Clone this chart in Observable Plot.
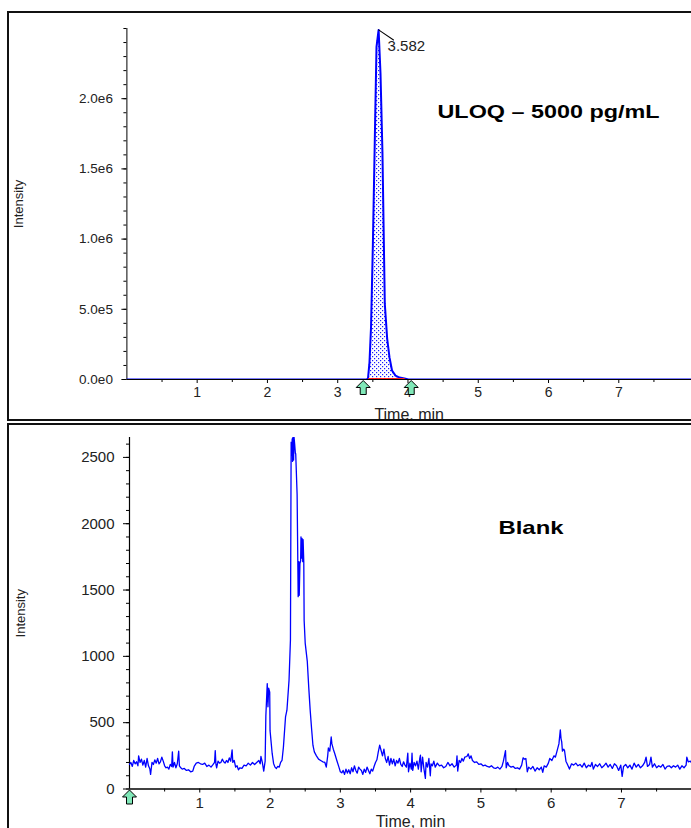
<!DOCTYPE html>
<html><head><meta charset="utf-8">
<script src="https://cdn.jsdelivr.net/npm/d3@7"></script>
<script src="https://cdn.jsdelivr.net/npm/@observablehq/plot@0.6"></script>
<style>
html,body{margin:0;padding:0;background:#fff;}
#page{position:relative;width:691px;height:828px;overflow:hidden;background:#fff;font-family:Arial,"Liberation Sans",sans-serif;}
#page svg{position:absolute;left:0;overflow:hidden;}
.box{position:absolute;border:2px solid #111;pointer-events:none;box-sizing:border-box;}
</style></head><body><div id="page"></div>
<script>
// ---------- DATA ----------
// ULOQ chromatogram (time in min, intensity in counts)
const uloqTrace = [
  [0,0],[3.410,0],[3.431,7000],[3.452,120000],[3.474,370000],[3.500,950000],
  [3.529,1740000],[3.552,2370000],[3.582,2490000],[3.609,2180000],[3.637,1610000],
  [3.670,540000],[3.704,290000],[3.737,157000],[3.773,64000],[3.822,28000],
  [3.879,14000],[3.950,7000],[4.007,0],[8.1,0]
];
const uloqIntegration = [3.41, 4.007];          // integrated peak window
const uloqMarkers = [3.363, 4.046];             // peak start / end markers
const uloqRedBaseline = [{start: 3.44, end: 3.96}];
const uloqApex = [{time: 3.582, intensity: 2490000, label: "3.582"}];
const uloqTitle = ["ULOQ – 5000 pg/mL"];
const uloqYTicks = [0, 5e5, 1e6, 1.5e6, 2e6];
const uloqYMinor = d3.range(0, 2.5e6 + 1, 1e5);

// Blank chromatogram
const blankTrace = [
  [0.00,185],[0.02,200],[0.04,170],[0.06,215],[0.08,190],[0.10,205],[0.12,175],[0.13,250],
  [0.15,200],[0.17,225],[0.19,180],[0.21,215],[0.23,165],[0.25,230],[0.27,175],[0.29,150],
  [0.30,110],[0.32,200],[0.34,185],[0.36,220],[0.38,195],[0.40,230],[0.42,190],[0.44,205],
  [0.46,240],[0.48,210],[0.50,175],[0.52,160],[0.54,165],[0.56,150],[0.58,185],[0.60,170],
  [0.61,280],[0.62,165],[0.64,200],[0.66,160],[0.68,190],[0.70,285],[0.71,175],[0.73,160],
  [0.75,150],[0.78,155],[0.81,140],[0.84,145],[0.87,130],[0.90,135],[0.92,170],[0.95,195],
  [0.98,200],[1.01,190],[1.04,185],[1.07,195],[1.10,170],[1.13,180],[1.16,165],[1.19,185],
  [1.21,200],[1.22,290],[1.23,185],[1.24,160],[1.26,210],[1.28,195],[1.30,200],[1.32,225],
  [1.34,205],[1.36,195],[1.38,215],[1.40,200],[1.42,235],[1.44,210],[1.46,295],[1.47,200],
  [1.49,215],[1.51,165],[1.53,175],[1.55,145],[1.57,160],[1.60,155],[1.63,180],[1.66,175],
  [1.69,195],[1.72,180],[1.75,200],[1.78,185],[1.81,200],[1.84,215],[1.86,190],[1.87,245],
  [1.89,200],[1.91,135],[1.93,210],[1.94,550],[1.96,795],[1.97,620],[1.98,760],[1.995,730],
  [2.00,440],[2.03,268],[2.05,193],[2.07,165],[2.09,155],[2.11,170],[2.13,165],[2.15,200],
  [2.17,215],[2.19,316],[2.22,543],[2.24,594],[2.27,821],[2.29,1123],[2.30,2614],[2.31,2520],
  [2.315,2640],[2.32,2470],[2.325,2650],[2.33,2560],[2.335,2480],[2.34,2660],[2.35,2600],
  [2.36,2530],[2.365,2529],[2.385,2219],[2.40,1450],[2.41,1714],[2.415,1460],[2.425,1700],
  [2.435,1720],[2.44,1901],[2.45,1740],[2.455,1890],[2.465,1714],[2.47,1880],[2.48,1707],
  [2.485,1270],[2.50,1100],[2.53,960],[2.55,770],[2.57,600],[2.59,460],[2.61,330],[2.63,280],
  [2.66,250],[2.69,225],[2.72,215],[2.75,205],[2.78,200],[2.80,165],[2.82,250],[2.83,310],
  [2.85,285],[2.87,392],[2.88,340],[2.90,300],[2.92,268],[2.95,215],[2.98,165],[3.00,130],
  [3.02,122],[3.04,140],[3.06,110],[3.08,150],[3.10,120],[3.12,145],[3.14,115],[3.16,160],
  [3.18,130],[3.20,175],[3.22,140],[3.24,120],[3.26,165],[3.28,150],[3.30,140],[3.32,110],
  [3.34,150],[3.36,125],[3.38,165],[3.40,140],[3.42,115],[3.44,150],[3.46,135],[3.48,170],
  [3.50,200],[3.52,220],[3.54,280],[3.56,330],[3.58,290],[3.60,250],[3.62,300],[3.64,230],
  [3.66,200],[3.68,245],[3.70,180],[3.72,230],[3.74,190],[3.76,225],[3.78,175],[3.80,215],
  [3.82,195],[3.84,230],[3.86,185],[3.88,170],[3.90,205],[3.92,180],[3.94,165],[3.96,270],
  [3.97,130],[3.99,195],[4.01,150],[4.02,270],[4.03,140],[4.05,200],[4.07,175],[4.09,210],
  [4.11,150],[4.13,230],[4.14,255],[4.15,130],[4.17,240],[4.19,150],[4.21,80],[4.22,200],
  [4.24,165],[4.26,230],[4.28,100],[4.29,190],[4.31,175],[4.33,210],[4.35,165],[4.38,195],
  [4.41,175],[4.44,180],[4.47,160],[4.50,170],[4.53,200],[4.56,175],[4.59,190],[4.62,165],
  [4.65,180],[4.66,250],[4.67,135],[4.69,215],[4.71,200],[4.73,230],[4.75,210],[4.77,240],
  [4.80,245],[4.82,265],[4.84,230],[4.86,250],[4.88,215],[4.91,200],[4.94,205],[4.97,185],
  [5.00,190],[5.03,175],[5.06,180],[5.09,170],[5.12,165],[5.15,175],[5.18,160],[5.21,155],
  [5.24,165],[5.27,150],[5.30,170],[5.32,210],[5.35,290],[5.36,160],[5.38,200],[5.40,175],
  [5.43,165],[5.46,170],[5.49,155],[5.52,160],[5.55,150],[5.58,180],[5.60,235],[5.62,225],
  [5.64,230],[5.66,130],[5.68,165],[5.71,150],[5.74,170],[5.77,135],[5.80,160],[5.83,145],
  [5.86,165],[5.88,125],[5.90,175],[5.93,165],[5.96,195],[5.98,230],[6.01,215],[6.04,250],
  [6.06,240],[6.08,280],[6.11,340],[6.13,446],[6.14,380],[6.15,355],[6.16,285],[6.18,300],
  [6.19,290],[6.21,210],[6.24,175],[6.26,150],[6.29,190],[6.32,180],[6.35,195],[6.38,175],
  [6.41,185],[6.44,165],[6.47,195],[6.50,160],[6.53,180],[6.56,170],[6.58,200],[6.60,150],
  [6.63,185],[6.66,170],[6.69,190],[6.72,160],[6.75,175],[6.78,195],[6.81,165],[6.84,185],
  [6.87,155],[6.90,190],[6.93,175],[6.96,140],[6.99,180],[7.01,95],[7.03,170],[7.06,185],
  [7.09,160],[7.12,180],[7.15,150],[7.18,195],[7.21,165],[7.24,185],[7.27,160],[7.30,175],
  [7.33,200],[7.35,240],[7.37,170],[7.40,185],[7.42,240],[7.44,165],[7.47,190],[7.50,160],
  [7.53,175],[7.56,165],[7.59,185],[7.62,150],[7.65,170],[7.68,175],[7.71,160],[7.74,175],
  [7.77,165],[7.80,180],[7.83,150],[7.86,175],[7.89,160],[7.92,180],[7.93,240],[7.95,205],
  [7.98,210],[8.00,195]
];
const blankMarkers = [0];
const blankTitle = ["Blank"];
const blankYTicks = [0, 500, 1000, 1500, 2000, 2500];
const blankYMinor = d3.range(0, 2601, 100);

const xTicks = [1, 2, 3, 4, 5, 6, 7];
const xMinor = [0.5, 1.5, 2.5, 3.5, 4.5, 5.5, 6.5, 7.5];
const yLabel = ["Intensity"];
const xLabel = ["Time, min"];

// ---------- STYLE HELPERS ----------
const FONT = "Arial, 'Liberation Sans', sans-serif";
const TXT = "#222";
const arrowUp = {
  draw(ctx) {
    ctx.moveTo(0, 1); ctx.lineTo(7, 8); ctx.lineTo(3, 8); ctx.lineTo(3, 15);
    ctx.lineTo(-3, 15); ctx.lineTo(-3, 8); ctx.lineTo(-7, 8); ctx.closePath();
  }
};
const leader = {draw(ctx, l) { ctx.moveTo(0, 0); ctx.lineTo(0, -l); }};
const fmtExp = d => d === 0 ? "0.0e0" : d.toExponential(1).replace("+", "");

const uloqRows = uloqTrace.map(([time, intensity]) => ({time, intensity}));
const uloqPeak = uloqRows.filter(d => d.time >= uloqIntegration[0] && d.time <= uloqIntegration[1]);
const blankRows = blankTrace.map(([time, intensity]) => ({time, intensity}));

const patternDefs = () => {
  const defs = d3.create("svg:defs");
  const p = defs.append("pattern").attr("id", "dots").attr("patternUnits", "userSpaceOnUse")
    .attr("width", 4).attr("height", 4);
  p.append("rect").attr("width", 4).attr("height", 4).attr("fill", "#fff");
  p.append("rect").attr("x", 0).attr("y", 0).attr("width", 1.2).attr("height", 1.2).attr("fill", "#1a1aff");
  p.append("rect").attr("x", 2).attr("y", 2).attr("width", 1.2).attr("height", 1.2).attr("fill", "#1a1aff");
  return defs.node();
};

// ---------- TOP PANEL ----------
const topPlot = Plot.plot({
  width: 691, height: 420,
  marginLeft: 126.4, marginRight: 0, marginTop: 28, marginBottom: 41,
  style: {background: "transparent", fontFamily: FONT, overflow: "hidden"},
  x: {domain: [0, (691 - 126.4) / 70.27]},
  y: {domain: [0, 2.5e6]},
  marks: [
    patternDefs,
    Plot.axisY(uloqYMinor, {tickSize: 3, tickFormat: () => "", label: null, color: "#000"}),
    Plot.axisY(uloqYTicks, {tickSize: 5, tickPadding: 9, tickFormat: fmtExp, label: null, fontSize: 13.5, color: "#000", fill: TXT}),
    Plot.axisX(xMinor, {tickSize: 3, tickFormat: () => "", label: null, color: "#000"}),
    Plot.axisX(xTicks, {tickSize: 4, tickPadding: 4, label: null, fontSize: 14, color: "#000", fill: TXT}),
    Plot.ruleX([0], {stroke: "#000", strokeWidth: 1}),
    Plot.ruleY([0], {stroke: "#000", strokeWidth: 1}),
    Plot.areaY(uloqPeak, {x: "time", y: "intensity", fill: "url(#dots)"}),
    Plot.lineY(uloqRows, {x: "time", y: "intensity", stroke: "#0000ff", strokeWidth: 2, clip: true}),
    Plot.ruleY(uloqRedBaseline, {y: () => 0, x1: "start", x2: "end", stroke: "#ff2020", strokeWidth: 1, dy: -1}),
    Plot.vector(uloqApex, {x: "time", y: "intensity", length: 18, rotate: 124, anchor: "start", shape: leader, stroke: "#000", strokeWidth: 1}),
    Plot.text(uloqApex, {x: "time", y: "intensity", text: "label", dx: 9, dy: 16, textAnchor: "start", fontSize: 15, fill: TXT}),
    Plot.dot(uloqMarkers, {x: d => d, y: () => 0, symbol: arrowUp, fill: "#80e8b8", stroke: "#000", strokeWidth: 1}),
    Plot.text(uloqTitle, {frameAnchor: "top-left", dx: 310.6, dy: 83.5, textAnchor: "start", lineAnchor: "middle", fontSize: 19, fontWeight: "bold", fill: "#000"}),
    Plot.text(yLabel, {frameAnchor: "left", dx: -108.4, rotate: -90, textAnchor: "middle", lineAnchor: "middle", fontSize: 13, fill: TXT}),
    Plot.text(xLabel, {frameAnchor: "bottom", dy: 29, textAnchor: "middle", lineAnchor: "top", fontSize: 16, fill: TXT})
  ]
});
topPlot.style.top = "0px";

// ---------- BOTTOM PANEL ----------
const botPlot = Plot.plot({
  width: 691, height: 403,
  marginLeft: 129, marginRight: 0, marginTop: 12, marginBottom: 39.5,
  style: {background: "transparent", fontFamily: FONT, overflow: "hidden"},
  x: {domain: [0, (691 - 129) / 70.28]},
  y: {domain: [0, 2650]},
  marks: [
    Plot.axisY(blankYMinor, {tickSize: 3, tickFormat: () => "", label: null, color: "#000"}),
    Plot.axisY(blankYTicks, {tickSize: 6, tickPadding: 9, tickFormat: d3.format("d"), label: null, fontSize: 15, color: "#000", fill: TXT}),
    Plot.axisX(xMinor, {tickSize: 3, tickFormat: () => "", label: null, color: "#000"}),
    Plot.axisX(xTicks, {tickSize: 4, tickPadding: 4, label: null, fontSize: 15, color: "#000", fill: TXT}),
    Plot.ruleX([0], {stroke: "#000", strokeWidth: 1.2}),
    Plot.ruleY([0], {stroke: "#000", strokeWidth: 1.5}),
    Plot.lineY(blankRows, {x: "time", y: "intensity", stroke: "#0000ff", strokeWidth: 1.3, clip: true}),
    Plot.dot(blankMarkers, {x: d => d, y: () => 0, symbol: arrowUp, fill: "#80e8b8", stroke: "#000", strokeWidth: 1}),
    Plot.text(blankTitle, {frameAnchor: "top-left", dx: 369, dy: 90, textAnchor: "start", lineAnchor: "middle", fontSize: 19, fontWeight: "bold", fill: "#000"}),
    Plot.text(yLabel, {frameAnchor: "left", dx: -109, rotate: -90, textAnchor: "middle", lineAnchor: "middle", fontSize: 13, fill: TXT}),
    Plot.text(xLabel, {frameAnchor: "bottom", dy: 27, textAnchor: "middle", lineAnchor: "top", fontSize: 16, fill: TXT})
  ]
});
botPlot.style.top = "425px";

// stretch bold titles to the reference's wide lettering
const stretch = (svg, str, len) => d3.select(svg).selectAll("text")
  .filter(function() { return this.textContent === str; })
  .attr("textLength", len).attr("lengthAdjust", "spacingAndGlyphs");
stretch(topPlot, uloqTitle[0], 222);
stretch(botPlot, blankTitle[0], 65);

const page = document.getElementById("page");
page.appendChild(topPlot);
page.appendChild(botPlot);
const topBox = document.createElement("div");
topBox.className = "box";
Object.assign(topBox.style, {left: "7px", top: "11px", width: "720px", height: "410px"});
const botBox = document.createElement("div");
botBox.className = "box";
Object.assign(botBox.style, {left: "7px", top: "423px", width: "720px", height: "500px"});
page.appendChild(topBox);
page.appendChild(botBox);
</script></body></html>
